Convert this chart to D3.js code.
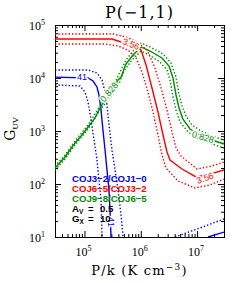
<!DOCTYPE html>
<html><head><meta charset="utf-8">
<script src="https://cdn.jsdelivr.net/npm/d3@7"></script>
<style>body{margin:0;background:#fff;} svg{display:block;}</style>
</head><body>
<svg id="c" width="242" height="283"></svg>
<script>
// ---------- data ----------
const xTicks = [1e5, 1e6, 1e7];
const xTickExp = ["5", "6", "7"];
const yTicks = [1e1, 1e2, 1e3, 1e4, 1e5];
const yTickExp = ["1", "2", "3", "4", "5"];

// [P/k, G_UV]
const redSolid = [[3.0e4,5.44e4],[3.08e5,5.44e4],[4.46e5,4.78e4],[6.70e5,4.20e4],[1.01e6,3.38e4],[1.24e6,1.76e4],[1.58e6,6.48e3],[2.02e6,2.28e3],[2.48e6,841],[2.92e6,402],[3.30e6,284],[5.39e6,192],[9.55e6,136],[1.69e7,154],[3.0e7,184]];
const redLow = [[3.0e4,4.38e4],[2.32e5,4.38e4],[3.94e5,4.02e4],[5.93e5,3.38e4],[8.23e5,2.39e4],[1.05e6,1.30e4],[1.34e6,5.44e3],[1.65e6,2.28e3],[2.02e6,841],[2.38e6,352],[2.80e6,200],[4.58e6,114],[9.17e6,84.1],[1.69e7,95.7],[3.0e7,124]];
const redHigh = [[3.0e4,6.76e4],[3.21e5,6.76e4],[5.47e5,5.94e4],[8.57e5,4.78e4],[1.29e6,3.38e4],[1.79e6,1.54e4],[2.29e6,6.48e3],[2.92e6,2.49e3],[3.58e6,958],[4.22e6,478],[5.17e6,338],[9.95e6,192],[1.84e7,219],[3.0e7,260]];

const greenSolid = [[3.0e4,200],[4.52e4,323],[6.79e4,594],[9.04e4,841],[1.16e5,1190],[1.54e5,1760],[1.89e5,2720],[2.32e5,3850],[3.08e5,5440],[3.94e5,9170],[4.46e5,1.04e4],[5.47e5,1.84e4],[7.28e5,2.72e4],[1.01e6,3.85e4],[1.46e6,3.23e4],[2.38e6,2.39e4],[3.17e6,1.68e4],[3.73e6,1.0e4],[4.22e6,4780],[4.77e6,2720],[5.61e6,1680],[7.48e6,1090],[1.12e7,841],[1.84e7,676],[3.0e7,569]];
const greenHigh = [[3.0e4,219],[4.52e4,352],[6.79e4,647],[1.16e5,1300],[1.89e5,2970],[3.08e5,6200],[3.94e5,1.09e4],[5.47e5,2.19e4],[7.28e5,3.23e4],[1.01e6,4.57e4],[1.46e6,3.85e4],[2.48e6,2.84e4],[3.44e6,1.92e4],[4.22e6,1.04e4],[4.77e6,4990],[5.39e6,2970],[6.35e6,1920],[8.11e6,1300],[1.17e7,1000],[1.84e7,805],[3.0e7,676]];
const greenLow = [[3.0e4,184],[4.52e4,296],[6.79e4,544],[1.16e5,1090],[1.89e5,2490],[3.08e5,4780],[4.11e5,7710],[5.04e5,1.36e4],[6.98e5,2.19e4],[1.01e6,3.23e4],[1.40e6,2.72e4],[2.19e6,2.00e4],[2.92e6,1.42e4],[3.30e6,9170],[3.73e6,4380],[4.22e6,2490],[4.97e6,1480],[6.89e6,958],[1.08e7,706],[1.84e7,569],[3.0e7,478]];

const blueSolid = [[3.0e4,1.04e4],[1.16e5,1.0e4],[1.42e5,8770],[1.67e5,6770],[1.81e5,4780],[1.97e5,2490],[2.13e5,1040],[2.32e5,438],[2.51e5,184],[2.73e5,77.1],[2.84e5,32.3],[2.96e5,10]];
const blueLow = [[3.0e4,7380],[8.33e4,7070],[1.02e5,5440],[1.16e5,3520],[1.31e5,1610],[1.48e5,676],[1.67e5,284],[1.81e5,119],[1.97e5,49.9],[2.05e5,10]];
const blueHigh = [[3.0e4,1.42e4],[1.16e5,1.42e4],[1.67e5,1.24e4],[2.05e5,9170],[2.32e5,5440],[2.51e5,3100],[2.73e5,1300],[3.08e5,438],[3.49e5,184],[3.94e5,77.1],[4.46e5,26.0],[4.84e5,10]];
const blueHighCorner = [[4.05e6,10],[1.12e7,14.8],[3.0e7,21.9]];
const blueSolidCorner = [[1.56e7,10],[3.0e7,12.4]];

// contour labels: [text, P/k, G_UV, series]
const contourLabels = [
  ["3.56", 6.70e5, 4.38e4, "red"],
  ["3.56", 1.38e7, 130, "red"],
  ["0.828", 2.73e5, 5440, "green"],
  ["0.828", 1.27e7, 771, "green"],
  ["41", 9.04e4, 1.04e4, "blue"],
  ["41", 2.96e5, 19.2, "blue"]
];
const labelAngles = [22, -20, -50, 17, 0, 90];

const legendEntries = [["COJ3−2/COJ1−0", "blue"], ["COJ6−5/COJ3−2", "red"], ["COJ9−8/COJ6−5", "green"]];
const params = [["A", "V", "0.5"], ["G", "X", "10"]];

// ---------- styles ----------
const colors = {blue: "#0000ff", red: "#ff0000", green: "#008c00"};
const layers = [
  [blueHigh, "blue", true], [blueLow, "blue", true], [blueSolid, "blue", false],
  [blueHighCorner, "blue", true], [blueSolidCorner, "blue", false],
  [greenHigh, "green", true], [greenLow, "green", true], [greenSolid, "green", false],
  [redHigh, "red", true], [redLow, "red", true], [redSolid, "red", false]
];

// ---------- chart ----------
const svg = d3.select("#c");
const L = 55, R = 224, T = 25, B = 237;
const x = d3.scaleLog().domain([3e4, 3e7]).range([L, R]);
const y = d3.scaleLog().domain([10, 1e5]).range([B, T]);

svg.append("defs").append("clipPath").attr("id", "clip")
  .append("rect").attr("x", L).attr("y", T).attr("width", R - L).attr("height", B - T);

const isPow = v => Math.abs(Math.log10(v) - Math.round(Math.log10(v))) < 1e-9;
const minorX = x.ticks().filter(v => !isPow(v));
const minorY = y.ticks().filter(v => !isPow(v));

function addAxis(gen, tr) {
  const g = svg.append("g").attr("transform", tr).call(gen);
  g.select(".domain").remove();
  g.selectAll("line").attr("stroke", "#000");
  return g;
}
addAxis(d3.axisBottom(x).tickValues(xTicks).tickSize(-6).tickFormat(""), `translate(0,${B})`);
addAxis(d3.axisBottom(x).tickValues(minorX).tickSize(-3).tickFormat(""), `translate(0,${B})`);
addAxis(d3.axisTop(x).tickValues(xTicks).tickSize(-6).tickFormat(""), `translate(0,${T})`);
addAxis(d3.axisTop(x).tickValues(minorX).tickSize(-3).tickFormat(""), `translate(0,${T})`);
addAxis(d3.axisLeft(y).tickValues(yTicks).tickSize(-6).tickFormat(""), `translate(${L},0)`);
addAxis(d3.axisLeft(y).tickValues(minorY).tickSize(-3).tickFormat(""), `translate(${L},0)`);
addAxis(d3.axisRight(y).tickValues(yTicks).tickSize(-6).tickFormat(""), `translate(${R},0)`);
addAxis(d3.axisRight(y).tickValues(minorY).tickSize(-3).tickFormat(""), `translate(${R},0)`);

svg.append("rect").attr("x", L + 0.5).attr("y", T + 0.5).attr("width", R - L).attr("height", B - T)
  .attr("fill", "none").attr("stroke", "#000").attr("stroke-width", 1);

// tick labels
const serif = "'Liberation Serif','Times New Roman',serif";
xTicks.forEach((v, i) => {
  const t = svg.append("text").attr("x", x(v) - 1).attr("y", 256).attr("text-anchor", "middle")
    .attr("font-family", serif).attr("font-size", 12).attr("fill", "#000");
  t.append("tspan").text("10");
  t.append("tspan").attr("dy", -5).attr("font-size", 8).text(xTickExp[i]);
});
yTicks.forEach((v, i) => {
  const t = svg.append("text").attr("x", 45).attr("y", y(v) + 5).attr("text-anchor", "end")
    .attr("font-family", serif).attr("font-size", 12).attr("fill", "#000");
  t.append("tspan").text("10");
  t.append("tspan").attr("dy", -5).attr("font-size", 8).text(yTickExp[i]);
});

// title & axis titles
svg.append("text").attr("x", (L + R) / 2).attr("y", 18).attr("text-anchor", "middle")
  .attr("font-family", "'DejaVu Serif',serif").attr("font-size", 16).attr("letter-spacing", 1)
  .text("P(−1,1)");

const xl = svg.append("text").attr("x", (L + R) / 2).attr("y", 275).attr("text-anchor", "middle")
  .attr("font-family", "'DejaVu Serif',serif").attr("font-size", 13).attr("letter-spacing", 1.2);
xl.append("tspan").text("P/k (K cm");
xl.append("tspan").attr("dy", -5).attr("font-size", 9).text("−3");
xl.append("tspan").attr("dy", 5).text(")");

const yl = svg.append("text").attr("transform", `translate(15,${(T + B) / 2 - 2}) rotate(-90)`)
  .attr("text-anchor", "middle").attr("font-family", "'DejaVu Serif',serif").attr("font-size", 14);
yl.append("tspan").text("G");
yl.append("tspan").attr("dy", 3).attr("font-size", 8).text("UV");

// contour lines
const line = d3.line().x(d => x(d[0])).y(d => y(d[1]));
const plot = svg.append("g").attr("clip-path", "url(#clip)");
plot.selectAll("path.c").data(layers).join("path").attr("class", "c")
  .attr("d", d => line(d[0]))
  .attr("fill", "none")
  .attr("stroke", d => colors[d[1]])
  .attr("stroke-width", d => d[2] ? 1.4 : 1.4)
  .attr("stroke-dasharray", d => d[2] ? "1.4,2" : null);

// contour labels
plot.selectAll("text.cl").data(contourLabels).join("text").attr("class", "cl")
  .attr("transform", (d, i) => `translate(${x(d[1])},${y(d[2])}) rotate(${labelAngles[i]})`)
  .attr("text-anchor", "middle").attr("dy", "0.35em")
  .attr("font-family", "'Liberation Sans',Arial,sans-serif").attr("font-size", 9)
  .attr("fill", d => colors[d[3]])
  .attr("stroke", "#fff").attr("stroke-width", 3).attr("paint-order", "stroke")
  .text(d => d[0]);

// legend
const sans = "'Liberation Sans',Arial,sans-serif";
legendEntries.forEach((d, i) => {
  svg.append("text").attr("x", 72).attr("y", 182 + i * 10)
    .attr("font-family", sans).attr("font-weight", "bold").attr("font-size", 9.6)
    .attr("fill", colors[d[1]]).text(d[0]);
});
params.forEach((d, i) => {
  const t = svg.append("text").attr("x", 72).attr("y", 212 + i * 10)
    .attr("font-family", sans).attr("font-weight", "bold").attr("font-size", 9.6).attr("fill", "#000");
  t.append("tspan").text(d[0]);
  t.append("tspan").attr("dy", 2).attr("font-size", 6.5).text(d[1]);
  t.append("tspan").attr("x", 88).attr("dy", -2).text("=");
  t.append("tspan").attr("x", 100).text(d[2]);
});
</script>
</body></html>
